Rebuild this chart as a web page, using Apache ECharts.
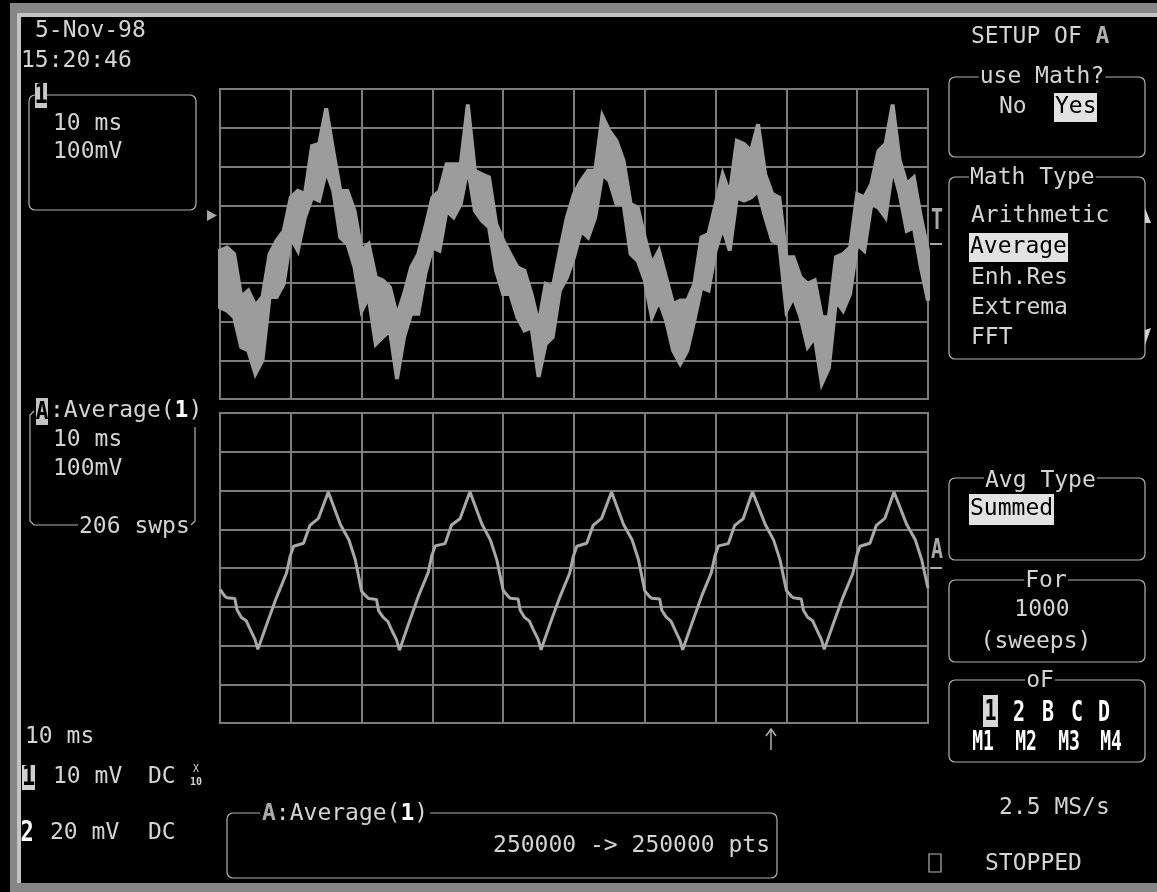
<!DOCTYPE html>
<html><head><meta charset="utf-8">
<script src="https://cdn.jsdelivr.net/npm/echarts@6/dist/echarts.min.js"></script>
<style>html,body{margin:0;padding:0;background:#000;overflow:hidden}#c{width:1157px;height:892px}</style>
</head><body><div id="c"></div><script>
// ---- Channel 1 (noisy raw trace): sample times (ms) and envelope (mV) ----
const timeMs = [0,1,2,3,4,5,6,7,8,9,10,11,12,13,14,15,16,17,18,19,20,21,22,23,24,25,26,27,28,29,30,31,32,33,34,35,36,37,38,39,40,41,42,43,44,45,46,47,48,49,50,51,52,53,54,55,56,57,58,59,60,61,62,63,64,65,66,67,68,69,70,71,72,73,74,75,76,77,78,79,80,81,82,83,84,85,86,87,88,89,90,91,92,93,94,95,96,97,98,99,100];
const ch1High = [-17,-9,-26,-137,-120,-159,-137,-26,9,34,
 120,137,129,253,258,350,240,137,137,86,
 -17,0,-86,-94,-112,-185,-129,-60,-26,43,
 120,137,206,206,206,360,189,180,172,52,
 9,-26,-60,-69,-129,-206,-103,-112,-17,69,
 129,163,189,189,330,292,266,215,103,94,
 17,-52,-17,-86,-155,-146,-146,-103,17,26,
 103,180,129,266,258,240,309,180,129,120,
 -34,-34,-86,-103,-94,-189,-189,-34,-26,-9,
 129,120,155,240,258,360,215,155,172,69,
 -17];
const ch1Low = [-163,-172,-189,-266,-275,-335,-300,-137,-137,-103,
 17,-17,69,120,112,189,137,17,0,-60,
 -172,-137,-258,-240,-223,-348,-240,-180,-180,-77,
 -9,-17,86,69,103,197,86,60,43,-69,
 -129,-129,-189,-223,-215,-343,-258,-240,-120,-86,
 -34,34,17,69,180,163,103,103,-26,-43,
 -94,-189,-146,-197,-275,-309,-275,-197,-112,-120,
 -17,43,-17,120,112,120,137,69,9,0,
 -172,-137,-189,-266,-240,-360,-320,-146,-172,-129,
 0,-17,103,94,69,197,129,34,43,-60,
 -146];
// ---- Trace A: Average(1) vertices (ms, mV) ----
const avgTimeMs = [
 0,0.7,1,2.1,2.4,3,3.7,4.25,4.95,5.35,6.6,8,9.4,9.9,10.4,11.8,12.7,13.9,15.3,17,18.2,19.1,
 20,20.7,21,22.1,22.4,23,23.7,24.25,24.95,25.35,26.6,28,29.4,29.9,30.4,31.8,32.7,33.9,35.3,37,38.2,39.1,
 40,40.7,41,42.1,42.4,43,43.7,44.25,44.95,45.35,46.6,48,49.4,49.9,50.4,51.8,52.7,53.9,55.3,57,58.2,59.1,
 60,60.7,61,62.1,62.4,63,63.7,64.25,64.95,65.35,66.6,68,69.4,69.9,70.4,71.8,72.7,73.9,75.2,77,78.2,79.1,
 80,80.7,81,82.1,82.4,83,83.7,84.25,84.95,85.35,86.6,88,89.4,89.9,90.4,91.8,92.7,93.9,95.2,97,98.2,99.1,
 100];
const avgMv = [
 -55,-73,-77,-79,-108,-127,-136,-158,-185,-210,-145,-75,-13,30,56,64,110,128,196,112,73,22,
 -60,-74,-79,-81,-110,-126,-138,-160,-186,-212,-146,-74,-12,31,57,63,111,127,197,113,72,21,
 -58,-73,-78,-80,-109,-127,-137,-159,-185,-211,-145,-75,-13,30,56,64,110,128,196,112,73,22,
 -59,-74,-78,-80,-109,-126,-137,-159,-186,-211,-146,-74,-12,31,57,63,110,127,197,113,72,21,
 -58,-73,-77,-80,-109,-127,-136,-158,-185,-210,-145,-75,-13,30,56,64,110,128,196,112,73,22,
 -52];
// ---- Axis settings (10 ms/div, 100 mV/div) ----
const xTicks = {min:0, max:100, interval:10};
const yTicks = {min:-400, max:400, interval:100};

const GRID = '#7c7c7c', TXT = '#d4d4d4', BOX = '#b4b4b4', TRACE = '#9c9c9c';
const FONT = '"DejaVu Sans Mono", monospace';
const BOLD = 'bold 23px ' + FONT;
function T(x, y, s, o) {
  o = o || {};
  return {type:'text', x:x, y:y, z:20, scaleY:o.sy||1, style:{text:s, fill:o.fill||TXT,
    font:(o.bold?'bold ':'') + (o.size||23) + 'px ' + FONT, align:o.align||'left', verticalAlign:'middle',
    backgroundColor:o.bg, padding:o.pad, rich:o.rich}};
}
function R(x, y, w, h, o) {
  o = o || {};
  return {type:'rect', z:o.z||10, shape:{x:x, y:y, width:w, height:h, r:o.r||0},
    style:{fill:o.fill||'none', stroke:o.stroke||null, lineWidth:o.lw||1.2}};
}
function L(pts, o) {
  o = o || {};
  return {type:'polyline', z:12, shape:{points:pts}, style:{stroke:o.stroke||BOX, lineWidth:o.lw||1.2, fill:null}};
}
function P(pts, fill) { return {type:'polygon', z:12, shape:{points:pts}, style:{fill:fill}}; }

const elements = [
  // frame
  R(10, 3, 1147, 12, {fill:'#868686', z:1}),
  R(10, 3, 8, 889, {fill:'#868686', z:1}),
  R(17, 13, 1140, 4, {fill:'#c4c4c4', z:2}),
  R(17, 13, 4, 870, {fill:'#c4c4c4', z:2}),
  R(10, 883, 1147, 9, {fill:'#868686', z:3}),
  // header
  T(35, 31, '5-Nov-98'), T(21, 61, '15:20:46'),
  // channel 1 box
  R(29, 95, 167, 115, {stroke:BOX, r:6}),
  R(35, 83, 12, 25, {fill:'#c8c8c8', z:13}),
  T(41, 96, '1', {fill:'#000', bold:true, align:'center', size:22, sy:1.2}),
  T(53, 124, '10 ms'), T(53, 152, '100mV'),
  P([[207,210],[207,221],[217,215.5]], '#a8a8a8'),
  // trace A box (left)
  L([[34,411],[30,415],[30,521],[34,525],[78,525]]),
  L([[195,427],[195,521],[191,525]]),
  R(36, 398, 12, 27, {fill:'#c4c4c4', z:13}),
  T(42, 412, 'A', {fill:'#000', bold:true, align:'center', size:21, sy:1.2}),
  T(50, 411, ':Average({b|1})', {rich:{b:{fill:'#fff', font:BOLD}}}),
  T(53, 440, '10 ms'), T(53, 469, '100mV'),
  T(79, 527, '206 swps'),
  // right-edge markers
  T(937, 222, 'T', {fill:'#a8a8a8', bold:true, align:'center', size:20, sy:1.4}),
  L([[930,244],[942,244]], {stroke:'#a8a8a8', lw:2}),
  T(937, 551, 'A', {fill:'#a8a8a8', bold:true, align:'center', size:20, sy:1.3}),
  L([[930,568],[942,568]], {stroke:'#a8a8a8', lw:2}),
  L([[771,750],[771,730]], {stroke:'#b0b0b0', lw:1.5}),
  L([[766,736],[771,729],[776,736]], {stroke:'#b0b0b0', lw:1.5}),
  // bottom-left
  T(25, 737, '10 ms'),
  R(22, 765, 13, 25, {fill:'#d0d0d0', z:13}),
  T(28.5, 778, '1', {fill:'#000', bold:true, align:'center', size:22, sy:1.2}),
  T(53, 777, '10 mV'), T(148, 777, 'DC'),
  T(196, 769, 'X', {size:10, align:'center'}), T(196, 782, '10', {size:10, bold:true, align:'center'}),
  T(27, 834, '2', {fill:'#fff', bold:true, align:'center', size:22, sy:1.3}),
  T(50, 833, '20 mV'), T(148, 833, 'DC'),
  // bottom box
  R(227, 813, 550, 65, {stroke:BOX, r:6}),
  T(260, 814, '{a|A}:Average({b|1})', {bg:'#000', pad:[0,2], rich:{
    a:{fill:'#aaaaaa', font:BOLD}, b:{fill:'#fff', font:BOLD}}}),
  T(770, 846, '250000 -> 250000 pts', {align:'right'}),
  // right panel
  T(971, 37, 'SETUP OF {a|A}', {rich:{a:{fill:'#b0b0b0', font:BOLD}}}),
  R(949, 77, 196, 80, {stroke:BOX, r:6}),
  T(1042, 77, 'use Math?', {align:'center', bg:'#000', pad:[0,1]}),
  T(999, 107, 'No'),
  R(1054, 93, 43, 29, {fill:'#e2e2e2', z:13}),
  T(1055, 107, 'Yes', {fill:'#000'}),
  R(949, 177, 196, 182, {stroke:BOX, r:6}),
  T(969, 178, 'Math Type', {bg:'#000', pad:[0,1]}),
  T(971, 216, 'Arithmetic'),
  R(969, 233, 99, 29, {fill:'#e2e2e2', z:13}),
  T(970, 247, 'Average', {fill:'#000'}),
  T(971, 278, 'Enh.Res'), T(971, 308, 'Extrema'), T(971, 338, 'FFT'),
  P([[1145,208],[1145,223],[1151,223]], '#d0d0d0'),
  P([[1145,330],[1151,328],[1145,345]], '#d0d0d0'),
  R(949, 478, 196, 82, {stroke:BOX, r:6}),
  T(984, 481, 'Avg Type', {bg:'#000', pad:[0,1]}),
  R(969, 494, 85, 31, {fill:'#e2e2e2', z:13}),
  T(970, 509, 'Summed', {fill:'#000'}),
  R(949, 580, 196, 82, {stroke:BOX, r:6}),
  T(1046, 581, 'For', {align:'center', bg:'#000', pad:[0,1]}),
  T(1042, 610, '1000', {align:'center'}),
  T(1036, 642, '(sweeps)', {align:'center'}),
  R(949, 680, 196, 82, {stroke:BOX, r:6}),
  T(1040, 681, 'oF', {align:'center', bg:'#000', pad:[0,1]}),
  R(983, 695, 15, 32, {fill:'#d8d8d8', z:13}),
  T(990.5, 712, '1', {fill:'#000', bold:true, align:'center', size:20, sy:1.45}),
  T(1019, 713, '2', {fill:'#fff', bold:true, align:'center', size:20, sy:1.45}),
  T(1048, 713, 'B', {fill:'#fff', bold:true, align:'center', size:20, sy:1.45}),
  T(1077, 713, 'C', {fill:'#fff', bold:true, align:'center', size:20, sy:1.45}),
  T(1104, 713, 'D', {fill:'#fff', bold:true, align:'center', size:20, sy:1.45}),
  T(983, 743, 'M1', {fill:'#fff', bold:true, align:'center', size:18, sy:1.45}),
  T(1026, 743, 'M2', {fill:'#fff', bold:true, align:'center', size:18, sy:1.45}),
  T(1069, 743, 'M3', {fill:'#fff', bold:true, align:'center', size:18, sy:1.45}),
  T(1111, 743, 'M4', {fill:'#fff', bold:true, align:'center', size:18, sy:1.45}),
  T(999, 808, '2.5 MS/s'),
  R(929, 854, 12, 18, {stroke:BOX}),
  T(985, 864, 'STOPPED')
];

function xAx(gi) {
  return {type:'value', gridIndex:gi, min:xTicks.min, max:xTicks.max, interval:xTicks.interval,
    axisLine:{show:false}, axisTick:{show:false}, axisLabel:{show:false},
    splitLine:{show:true, lineStyle:{color:GRID, width:2}}};
}
function yAx(gi) {
  return {type:'value', gridIndex:gi, min:yTicks.min, max:yTicks.max, interval:yTicks.interval,
    axisLine:{show:false}, axisTick:{show:false}, axisLabel:{show:false},
    splitLine:{show:true, lineStyle:{color:GRID, width:2}}};
}

const chart = echarts.init(document.getElementById('c'), null, {renderer:'canvas'});
chart.setOption({
  backgroundColor:'#000',
  animation:false,
  grid:[
    {left:220, top:89, width:708, height:310, show:true, borderColor:GRID, borderWidth:2, backgroundColor:'transparent'},
    {left:220, top:413, width:708, height:310, show:true, borderColor:GRID, borderWidth:2, backgroundColor:'transparent'}
  ],
  xAxis:[xAx(0), xAx(1)],
  yAxis:[yAx(0), yAx(1)],
  series:[
    {type:'custom', xAxisIndex:0, yAxisIndex:0, data:[[timeMs[0], ch1Low[0], ch1High[0]]],
     renderItem:function(params, api){
       const pts = [];
       for (let i = 0; i < timeMs.length; i++) pts.push(api.coord([timeMs[i], ch1High[i]]));
       for (let i = timeMs.length - 1; i >= 0; i--) pts.push(api.coord([timeMs[i], ch1Low[i]]));
       return {type:'polygon', shape:{points:pts}, style:{fill:TRACE, stroke:TRACE, lineWidth:4, lineJoin:'miter', miterLimit:4}};
     }},
    {type:'line', xAxisIndex:1, yAxisIndex:1, showSymbol:false, symbol:'none',
     data:avgTimeMs.map((t,i)=>[t, avgMv[i]]),
     lineStyle:{color:'#a8a8a8', width:3}}
  ],
  graphic:{elements:elements}
});
</script></body></html>
